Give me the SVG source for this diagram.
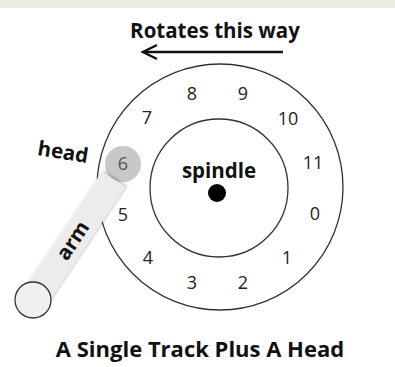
<svg xmlns="http://www.w3.org/2000/svg" width="395" height="367" viewBox="0 0 395 367">
<style>
.num{font-family:"Open Sans","Noto Sans",sans-serif;font-size:18px;fill:#222;text-anchor:middle;dominant-baseline:central}
.lbl{font-family:"Open Sans","Noto Sans",sans-serif;font-weight:bold;fill:#111;text-anchor:middle}
.trk{fill:none;stroke:#333;stroke-width:1.3}
</style>
<defs>
<filter id="sh" x="-30%" y="-30%" width="160%" height="160%">
<feGaussianBlur in="SourceAlpha" stdDeviation="1.5"/>
<feOffset dx="2" dy="1" result="b"/>
<feComponentTransfer><feFuncA type="linear" slope="0.25"/></feComponentTransfer>
<feMerge><feMergeNode/><feMergeNode in="SourceGraphic"/></feMerge>
</filter>
</defs>
<rect x="0" y="0" width="395" height="367" fill="#fff"/>
<rect x="0" y="0" width="395" height="8" fill="#ecebe2"/>
<g id="rotation">
<text class="lbl" x="215" y="38" font-size="20.5">Rotates this way</text>
<line x1="283" y1="52" x2="144" y2="52" stroke="#111" stroke-width="2.5"/>
<polyline points="157,45 143,52 157,59" fill="none" stroke="#111" stroke-width="2.5"/>
</g>
<g id="track">
<circle class="trk" cx="220" cy="187" r="123"/>
</g>
<g id="spindle">
<circle class="trk" cx="219" cy="188" r="69"/>
<circle cx="217" cy="193" r="9" fill="#000"/>
<text class="lbl" x="219" y="178" font-size="20.5">spindle</text>
</g>
<g id="sectors">
<text class="num" x="192" y="93">8</text>
<text class="num" x="243" y="93">9</text>
<text class="num" x="147" y="117">7</text>
<text class="num" x="288" y="118">10</text>
<text class="num" x="313" y="162">11</text>
<text class="num" x="315" y="213">0</text>
<text class="num" x="287" y="257">1</text>
<text class="num" x="243" y="282">2</text>
<text class="num" x="192" y="282">3</text>
<text class="num" x="148" y="257">4</text>
<text class="num" x="123" y="214">5</text>
</g>
<g id="head">
<circle cx="123" cy="164" r="18" fill="#c8c8c8"/>
<text class="num" x="123" y="163" style="fill:#555">6</text>
<text class="lbl" x="62" y="159" font-size="20.5" transform="rotate(9 62 159)">head</text>
</g>
<g id="arm">
<g transform="translate(33 300) rotate(-56.3)">
<rect x="0" y="-14" width="145" height="28" fill="#ececec" filter="url(#sh)"/>
</g>
<circle cx="33" cy="300" r="18" fill="#f0f0f0" stroke="#333" stroke-width="1.3"/>
<text class="lbl" x="72" y="240" font-size="20.5" dominant-baseline="central" transform="rotate(-56.3 72 240)">arm</text>
</g>
<text class="lbl" x="200" y="357" font-size="22">A Single Track Plus A Head</text>
</svg>
